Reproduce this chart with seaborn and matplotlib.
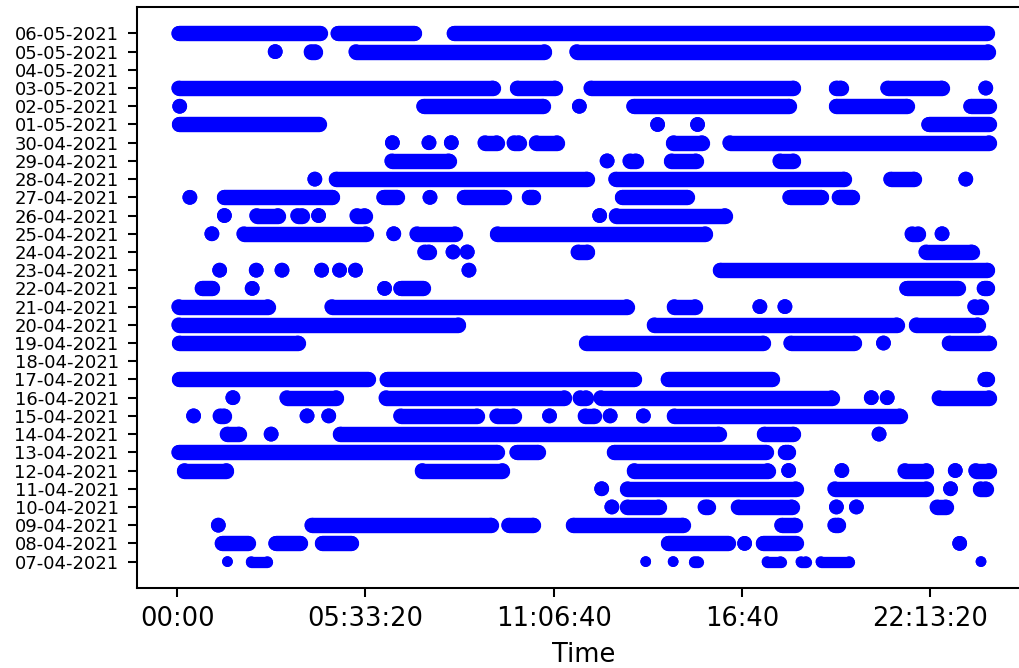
import matplotlib
matplotlib.use("Agg")
import matplotlib.pyplot as plt
import seaborn as sns
import pandas as pd

# ---------------- data ----------------
dates = ["07-04-2021", "08-04-2021", "09-04-2021", "10-04-2021", "11-04-2021",
         "12-04-2021", "13-04-2021", "14-04-2021", "15-04-2021", "16-04-2021",
         "17-04-2021", "18-04-2021", "19-04-2021", "20-04-2021", "21-04-2021",
         "22-04-2021", "23-04-2021", "24-04-2021", "25-04-2021", "26-04-2021",
         "27-04-2021", "28-04-2021", "29-04-2021", "30-04-2021", "01-05-2021",
         "02-05-2021", "03-05-2021", "04-05-2021", "05-05-2021", "06-05-2021"]

# activity sessions per day: (start hour, end hour); single readings have start == end
sessions = [
    [(1.48, 1.48), (2.18, 2.66), (13.83, 13.83), (14.64, 14.64), (15.27, 15.36), (17.41, 17.81), (18.41, 18.56), (19.0, 19.84), (23.73, 23.73)],
    [(1.32, 2.08), (2.9, 3.63), (4.28, 5.14), (14.5, 16.25), (16.75, 16.75), (17.3, 18.26), (23.1, 23.1)],
    [(1.21, 1.21), (3.97, 9.26), (9.78, 10.51), (11.69, 14.92), (17.84, 18.23), (19.41, 19.52)],
    [(12.83, 12.83), (13.29, 14.21), (15.58, 15.66), (16.56, 18.14), (19.46, 19.46), (20.05, 20.05), (22.43, 22.69)],
    [(12.53, 12.53), (13.29, 18.26), (19.41, 22.12), (22.83, 22.83), (23.71, 23.87)],
    [(0.21, 1.45), (7.23, 9.6), (13.49, 17.43), (18.05, 18.05), (19.62, 19.62), (21.48, 22.12), (22.97, 22.97), (23.57, 23.97)],
    [(0.04, 9.43), (10.02, 10.64), (12.9, 17.38), (17.95, 18.04)],
    [(1.47, 1.82), (2.77, 2.77), (4.81, 15.98), (17.33, 18.19), (20.72, 20.72)],
    [(0.48, 0.48), (1.26, 1.38), (3.83, 3.83), (4.47, 4.47), (6.59, 8.85), (9.43, 9.93), (10.99, 10.99), (12.04, 12.31), (12.78, 12.78), (13.76, 13.76), (14.67, 21.33)],
    [(1.64, 1.64), (3.23, 4.69), (6.16, 11.43), (11.89, 12.07), (12.5, 19.32), (20.49, 20.49), (20.96, 20.96), (22.49, 23.97)],
    [(0.06, 5.63), (6.19, 13.49), (14.49, 17.55), (23.84, 23.92)],
    [],
    [(0.06, 3.56), (12.08, 17.3), (18.11, 19.99), (20.85, 20.85), (22.79, 23.97)],
    [(0.04, 8.3), (14.08, 21.24), (21.82, 23.63)],
    [(0.04, 2.67), (4.56, 13.27), (14.67, 15.29), (17.2, 17.2), (17.94, 17.94), (23.54, 23.73)],
    [(0.73, 1.03), (2.21, 2.21), (6.12, 6.12), (6.59, 7.25), (21.53, 23.04), (23.82, 23.92)],
    [(1.25, 1.25), (2.33, 2.33), (3.09, 3.09), (4.26, 4.26), (4.79, 4.79), (5.26, 5.26), (8.61, 8.61), (16.03, 23.92)],
    [(7.3, 7.43), (8.14, 8.14), (8.56, 8.56), (11.83, 12.11), (22.1, 23.45)],
    [(1.02, 1.02), (1.96, 5.56), (6.39, 6.39), (7.07, 8.2), (9.45, 15.59), (21.69, 21.88), (22.58, 22.58)],
    [(1.39, 1.39), (2.34, 2.97), (3.55, 3.68), (4.17, 4.17), (5.3, 5.53), (12.47, 12.47), (12.96, 16.17)],
    [(0.37, 0.37), (1.39, 4.58), (6.09, 6.48), (7.46, 7.46), (8.47, 9.65), (10.39, 10.51), (13.14, 15.05), (18.08, 19.02), (19.54, 19.93)],
    [(4.06, 4.06), (4.69, 12.09), (12.94, 19.68), (21.06, 21.75), (23.28, 23.28)],
    [(6.33, 8.01), (12.69, 12.69), (13.36, 13.54), (14.59, 15.31), (17.79, 18.19)],
    [(6.35, 6.35), (7.43, 7.43), (8.09, 8.09), (9.08, 9.43), (9.94, 10.08), (10.6, 11.21), (14.65, 15.49), (16.31, 23.97)],
    [(0.06, 4.17), (14.18, 14.18), (15.36, 15.36), (22.18, 23.97)],
    [(0.07, 0.07), (7.27, 10.79), (11.87, 11.87), (13.47, 18.06), (19.46, 21.53), (23.42, 23.97)],
    [(0.04, 9.31), (10.04, 11.15), (12.21, 18.19), (19.46, 19.59), (20.97, 22.57), (23.87, 23.87)],
    [],
    [(2.89, 2.89), (3.95, 4.07), (5.27, 10.84), (11.79, 23.94)],
    [(0.04, 4.2), (4.74, 7.0), (8.17, 23.9)],
]

xtick_values = [0, 20000, 40000, 60000, 80000]
xtick_labels = ["00:00", "05:33:20", "11:06:40", "16:40", "22:13:20"]

# ---------------- figure ----------------
DPI = 185
fig = plt.figure(figsize=(1019 / DPI, 668 / DPI), dpi=DPI)
ax = fig.add_axes([0.13415, 0.11976, 0.87743, 0.86976])

BIG_D = 5.75    # marker diameter in points
SMALL_D = 4.15  # first day drawn with smaller markers

rows = []
for i, (d, sess) in enumerate(zip(dates, sessions)):
    for (a, b) in sess:
        rows.append({"row": i, "date": d, "start": a * 3600, "end": b * 3600})
df = pd.DataFrame(rows)

# continuous sessions as thick horizontal bands
for i in range(len(dates)):
    sub = df[df["row"] == i]
    if sub.empty:
        continue
    lw = SMALL_D if i == 0 else BIG_D
    ax.hlines(sub["row"], sub["start"], sub["end"], colors="blue",
              linewidth=lw + 0.25, capstyle="round")

pts = pd.concat([
    df[["row", "start"]].rename(columns={"start": "t"}),
    df[["row", "end"]].rename(columns={"end": "t"}),
], ignore_index=True)
pts["msize"] = (pts["row"] != 0).map({True: "big", False: "small"})

sns.scatterplot(data=pts, x="t", y="row", size="msize",
                sizes={"small": SMALL_D ** 2, "big": BIG_D ** 2}, color="blue",
                linewidth=0, edgecolor="none", legend=False, ax=ax)

ax.set_xlim(-4320, 90720)
ax.set_ylim(-1.45, len(dates) - 1 + 1.45)
ax.set_xticks(xtick_values)
ax.set_xticklabels(xtick_labels, fontsize=10)
ax.set_yticks(range(len(dates)))
ax.set_yticklabels(dates, fontsize=7)
ax.set_xlabel("Time", fontsize=10)
ax.set_ylabel("")
for s in ax.spines.values():
    s.set_color("black")

fig.savefig("out.png", dpi=DPI)
